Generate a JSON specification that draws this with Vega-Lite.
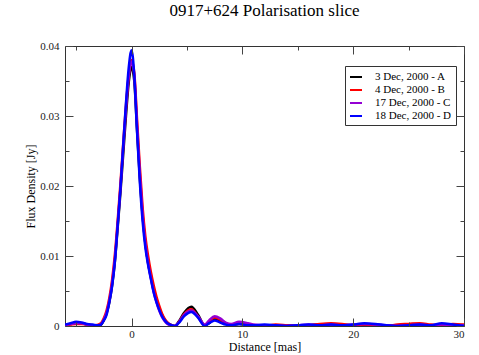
{
  "$schema": "https://vega.github.io/schema/vega-lite/v6.json",
  "autosize": "none",
  "width": 399,
  "height": 280,
  "padding": {"left": 65, "top": 46, "right": 15, "bottom": 29},
  "background": "white",
  "title": {"text": "0917+624 Polarisation slice", "font": "Liberation Serif", "fontSize": 17, "fontWeight": "normal", "color": "black", "anchor": "middle", "offset": 20},
  "config": {
    "view": {"stroke": "#333", "strokeWidth": 1},
    "axis": {"labelFont": "Liberation Serif", "titleFont": "Liberation Serif", "labelFontSize": 11, "titleFontSize": 12, "titleFontWeight": "normal", "labelColor": "#222", "titleColor": "black", "grid": false, "domain": false, "ticks": true, "tickColor": "#444", "tickWidth": 1, "zindex": 1},
    "legend": {"labelFont": "Liberation Serif"}
  },
  "data": {"values": [
    {"x": -6, "A": 0.0001, "B": 0.0001, "C": 0.0001, "D": 0.0002},
    {"x": -5.5, "A": 0.0003, "B": 0.0002, "C": 0.0003, "D": 0.0004},
    {"x": -5, "A": 0.0004, "B": 0.0003, "C": 0.0004, "D": 0.0006},
    {"x": -4.5, "A": 0.0004, "B": 0.0003, "C": 0.0004, "D": 0.0005},
    {"x": -4, "A": 0.0002, "B": 0.0002, "C": 0.0002, "D": 0.0003},
    {"x": -3.5, "A": 0.0001, "B": 0.0001, "C": 0.0001, "D": 0.0002},
    {"x": -3, "A": 0.0001, "B": 0.0002, "C": 0.0001, "D": 0.0001},
    {"x": -2.75, "A": 0.0002, "B": 0.0004, "C": 0.0003, "D": 0.0002},
    {"x": -2.5, "A": 0.0008, "B": 0.0011, "C": 0.0009, "D": 0.0008},
    {"x": -2.25, "A": 0.0018, "B": 0.0022, "C": 0.0019, "D": 0.0016},
    {"x": -2, "A": 0.0034, "B": 0.004, "C": 0.0036, "D": 0.0034},
    {"x": -1.75, "A": 0.0058, "B": 0.0066, "C": 0.0061, "D": 0.0057},
    {"x": -1.5, "A": 0.0092, "B": 0.0102, "C": 0.0096, "D": 0.0092},
    {"x": -1.25, "A": 0.014, "B": 0.015, "C": 0.0145, "D": 0.0143},
    {"x": -1, "A": 0.019, "B": 0.0203, "C": 0.0197, "D": 0.0196},
    {"x": -0.75, "A": 0.0245, "B": 0.026, "C": 0.0254, "D": 0.0258},
    {"x": -0.5, "A": 0.03, "B": 0.0315, "C": 0.031, "D": 0.0318},
    {"x": -0.25, "A": 0.0348, "B": 0.0358, "C": 0.0356, "D": 0.0369},
    {"x": 0, "A": 0.037, "B": 0.038, "C": 0.0378, "D": 0.0394},
    {"x": 0.25, "A": 0.035, "B": 0.0362, "C": 0.0358, "D": 0.0358},
    {"x": 0.5, "A": 0.028, "B": 0.0295, "C": 0.0288, "D": 0.0278},
    {"x": 0.75, "A": 0.0212, "B": 0.0228, "C": 0.0218, "D": 0.0206},
    {"x": 1, "A": 0.0158, "B": 0.017, "C": 0.016, "D": 0.015},
    {"x": 1.25, "A": 0.0118, "B": 0.0128, "C": 0.0118, "D": 0.0112},
    {"x": 1.5, "A": 0.009, "B": 0.01, "C": 0.009, "D": 0.0087},
    {"x": 1.75, "A": 0.007, "B": 0.0077, "C": 0.0068, "D": 0.0067},
    {"x": 2, "A": 0.0051, "B": 0.0058, "C": 0.0049, "D": 0.0048},
    {"x": 2.25, "A": 0.0037, "B": 0.0042, "C": 0.0034, "D": 0.0034},
    {"x": 2.5, "A": 0.0025, "B": 0.0029, "C": 0.0022, "D": 0.0023},
    {"x": 2.75, "A": 0.0016, "B": 0.0018, "C": 0.0013, "D": 0.0014},
    {"x": 3, "A": 0.0009, "B": 0.001, "C": 0.0007, "D": 0.0008},
    {"x": 3.25, "A": 0.0004, "B": 0.0005, "C": 0.0003, "D": 0.0004},
    {"x": 3.5, "A": 0.0002, "B": 0.0002, "C": 0.0001, "D": 0.0002},
    {"x": 3.9, "A": 0.0, "B": 0.0, "C": 0.0, "D": 0.0},
    {"x": 4.25, "A": 0.0006, "B": 0.0005, "C": 0.0005, "D": 0.0004},
    {"x": 4.75, "A": 0.0019, "B": 0.0017, "C": 0.0016, "D": 0.0014},
    {"x": 5.4, "A": 0.00275, "B": 0.0024, "C": 0.0022, "D": 0.002},
    {"x": 6, "A": 0.0016, "B": 0.0013, "C": 0.0014, "D": 0.0012},
    {"x": 6.6, "A": 0.0001, "B": 0.0001, "C": 0.0002, "D": 0.0},
    {"x": 7, "A": 0.0004, "B": 0.0006, "C": 0.0008, "D": 0.0004},
    {"x": 7.5, "A": 0.001, "B": 0.0012, "C": 0.0014, "D": 0.0008},
    {"x": 8, "A": 0.0007, "B": 0.0009, "C": 0.0011, "D": 0.0005},
    {"x": 8.5, "A": 0.0003, "B": 0.0004, "C": 0.0005, "D": 0.0002},
    {"x": 9, "A": 0.0001, "B": 0.0002, "C": 0.0003, "D": 0.0001},
    {"x": 9.7, "A": 0.0003, "B": 0.0004, "C": 0.0006, "D": 0.0003},
    {"x": 10.5, "A": 0.0002, "B": 0.0003, "C": 0.0004, "D": 0.0001},
    {"x": 11, "A": 0.0001, "B": 0.0001, "C": 0.0002, "D": 0.0001},
    {"x": 12, "A": 0.0, "B": 0.0, "C": 0.0001, "D": 0.0002},
    {"x": 13, "A": 0.0001, "B": 0.0002, "C": 0.0001, "D": 0.0001},
    {"x": 14, "A": 0.0001, "B": 0.0001, "C": 0.0, "D": 0.0},
    {"x": 15, "A": 0.0, "B": 0.0, "C": 0.0001, "D": 0.0001},
    {"x": 16, "A": 0.0001, "B": 0.0001, "C": 0.0002, "D": 0.0002},
    {"x": 17, "A": 0.0002, "B": 0.0003, "C": 0.0001, "D": 0.0001},
    {"x": 18, "A": 0.0002, "B": 0.0004, "C": 0.0002, "D": 0.0002},
    {"x": 19, "A": 0.0001, "B": 0.0003, "C": 0.0001, "D": 0.0001},
    {"x": 20, "A": 0.0001, "B": 0.0001, "C": 0.0002, "D": 0.0002},
    {"x": 21, "A": 0.0002, "B": 0.0002, "C": 0.0003, "D": 0.0004},
    {"x": 22, "A": 0.0001, "B": 0.0001, "C": 0.0002, "D": 0.0003},
    {"x": 23, "A": 0.0, "B": 0.0, "C": 0.0001, "D": 0.0001},
    {"x": 24, "A": 0.0001, "B": 0.0002, "C": 0.0, "D": 0.0},
    {"x": 25, "A": 0.0002, "B": 0.0003, "C": 0.0001, "D": 0.0001},
    {"x": 26, "A": 0.0002, "B": 0.0004, "C": 0.0002, "D": 0.0002},
    {"x": 27, "A": 0.0001, "B": 0.0002, "C": 0.0001, "D": 0.0001},
    {"x": 28, "A": 0.0001, "B": 0.0001, "C": 0.0002, "D": 0.0004},
    {"x": 29, "A": 0.0002, "B": 0.0003, "C": 0.0001, "D": 0.0002},
    {"x": 30, "A": 0.0001, "B": 0.0002, "C": 0.0001, "D": 0.0}
  ]},
  "transform": [{"fold": ["A", "B", "C", "D"], "as": ["series", "flux"]}],
  "layer": [
    {
      "mark": {"type": "line", "strokeWidth": 2.5, "interpolate": "monotone", "clip": true},
      "encoding": {
        "x": {"field": "x", "type": "quantitative", "scale": {"domain": [-6, 30], "nice": false, "zero": false},
          "axis": {"orient": "bottom", "title": "Distance [mas]", "values": [0, 10, 20, 30], "tickSize": -8, "zindex": 1,
            "labelFont": "Liberation Serif", "titleFont": "Liberation Serif", "labelFontSize": 11, "titleFontSize": 12, "labelPadding": 10, "titlePadding": 2}},
        "y": {"field": "flux", "type": "quantitative", "scale": {"domain": [0, 0.04], "nice": false},
          "axis": {"orient": "left", "title": "Flux Density [Jy]", "values": [0, 0.01, 0.02, 0.03, 0.04], "tickSize": -8, "format": ".2~f", "zindex": 1,
            "labelFont": "Liberation Serif", "titleFont": "Liberation Serif", "labelFontSize": 11, "titleFontSize": 12, "labelPadding": 14, "titlePadding": 2}},
        "color": {"field": "series", "type": "nominal",
          "scale": {"domain": ["A", "B", "C", "D"], "range": ["#000000", "#ff0000", "#9400d3", "#0000ff"]},
          "legend": {"orient": "none", "legendX": 280, "legendY": 20, "title": null, "symbolType": "stroke", "symbolSize": 144, "symbolStrokeWidth": 2,
            "labelFont": "Liberation Serif", "labelFontSize": 11, "labelColor": "black", "labelOffset": 12, "strokeColor": "#333", "fillColor": "white", "padding": 4, "rowPadding": 1,
            "labelExpr": "{'A': '3 Dec, 2000 - A', 'B': '4 Dec, 2000 - B', 'C': '17 Dec, 2000 - C', 'D': '18 Dec, 2000 - D'}[datum.label]"}},
        "order": {"field": "x", "type": "quantitative"}
      }
    },
    {
      "mark": {"type": "point", "opacity": 0},
      "encoding": {
        "x": {"field": "x", "type": "quantitative",
          "axis": {"orient": "top", "title": null, "labels": false, "values": [0, 10, 20, 30], "tickSize": -8, "zindex": 1}},
        "y": {"field": "flux", "type": "quantitative",
          "axis": {"orient": "right", "title": null, "labels": false, "values": [0, 0.01, 0.02, 0.03, 0.04], "tickSize": -8, "zindex": 1}}
      }
    },
    {
      "mark": {"type": "point", "opacity": 0},
      "encoding": {
        "x": {"field": "x", "type": "quantitative",
          "axis": {"orient": "bottom", "title": null, "labels": false, "values": [-5, 5, 15, 25], "tickSize": -4, "zindex": 1}},
        "y": {"field": "flux", "type": "quantitative",
          "axis": {"orient": "left", "title": null, "labels": false, "values": [0.005, 0.015, 0.025, 0.035], "tickSize": -4, "zindex": 1}}
      }
    },
    {
      "mark": {"type": "point", "opacity": 0},
      "encoding": {
        "x": {"field": "x", "type": "quantitative",
          "axis": {"orient": "top", "title": null, "labels": false, "values": [-5, 5, 15, 25], "tickSize": -4, "zindex": 1}},
        "y": {"field": "flux", "type": "quantitative",
          "axis": {"orient": "right", "title": null, "labels": false, "values": [0.005, 0.015, 0.025, 0.035], "tickSize": -4, "zindex": 1}}
      }
    }
  ],
  "resolve": {"axis": {"x": "independent", "y": "independent"}}
}
